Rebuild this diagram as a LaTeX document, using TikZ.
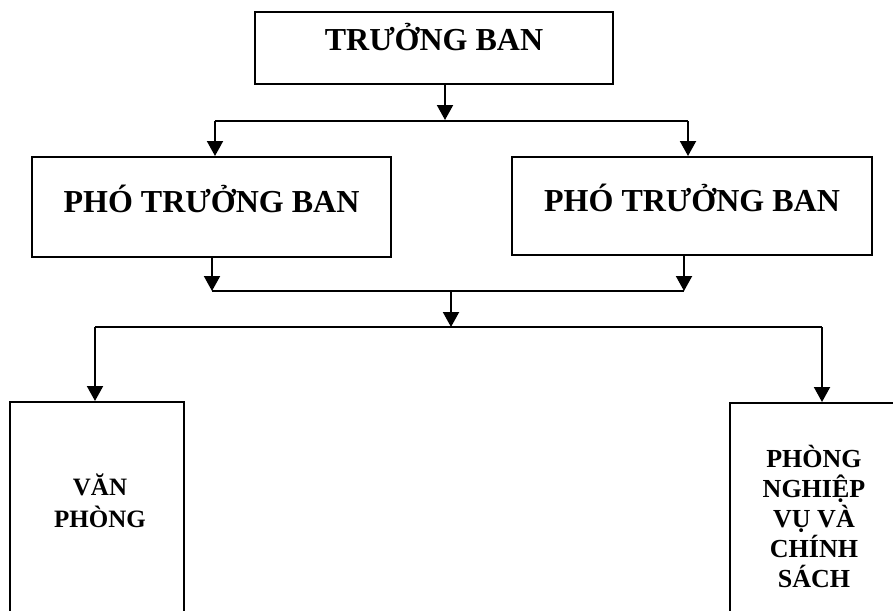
\documentclass[tikz,border=0pt]{standalone}
\usepackage{fontspec}
\setmainfont{Liberation Serif}
\usetikzlibrary{arrows.meta}
\begin{document}
\begin{tikzpicture}[x=1pt,y=-1pt,
  box/.style={draw=black, line width=2pt, inner sep=0pt},
  big/.style={font=\fontsize{32}{36}\selectfont\bfseries},
  smallL/.style={font=\fontsize{25}{32}\selectfont\bfseries, align=center, inner sep=0pt},
  smallR/.style={font=\fontsize{26}{29.8}\selectfont\bfseries, align=center, inner sep=0pt},
  conn/.style={line width=2pt, draw=black},
  arr/.style={conn, -{Triangle[length=15pt,width=16pt]}}]
\useasboundingbox (0,0) rectangle (893,610);
\fill[white] (0,0) rectangle (893,610);
% boxes
\node[box, big, minimum width=358pt, minimum height=72pt, text height=22pt, text depth=16pt] (top) at (434,48) {TRƯỞNG BAN};
\node[box, big, minimum width=359pt, minimum height=100pt, text height=22pt, text depth=11pt] (pl) at (211.5,207) {PHÓ TRƯỞNG BAN};
\node[box, big, minimum width=360pt, minimum height=98pt, text height=22pt, text depth=11pt] (pr) at (692,206) {PHÓ TRƯỞNG BAN};
\node[box, minimum width=174pt, minimum height=240pt, anchor=north] (vp) at (97,401) {};
\node[box, minimum width=180pt, minimum height=240pt, anchor=north west] (pn) at (729,402) {};
\node[smallL, anchor=base] (vpt) at (100,527) {VĂN\\PHÒNG};
\node[smallR, anchor=base] (pnt) at (814,587) {PHÒNG\\NGHIỆP\\VỤ VÀ\\CHÍNH\\SÁCH};
% junction coordinates
\coordinate (j0) at (445,120);
\coordinate (jl) at (215,121);
\coordinate (jr) at (688,121);
\coordinate (k1) at (212,291);
\coordinate (k2) at (684,291);
\coordinate (k3) at (451,291);
\coordinate (m0) at (451,327);
\coordinate (ml) at (95,327);
\coordinate (mr) at (822,327);
% connectors
\draw[arr] (top.south -| j0) -- (j0);
\draw[conn] (jl) -- (jr);
\draw[arr] (jl) -- (jl |- pl.north);
\draw[arr] (jr) -- (jr |- pr.north);
\draw[arr] (pl.south -| k1) -- (k1);
\draw[arr] (pr.south -| k2) -- (k2);
\draw[conn] (k1) -- (k2);
\draw[arr] (k3) -- (m0);
\draw[conn] (ml) -- (mr);
\draw[arr] (ml) -- (ml |- vp.north);
\draw[arr] (mr) -- (mr |- pn.north);
\end{tikzpicture}
\end{document}
